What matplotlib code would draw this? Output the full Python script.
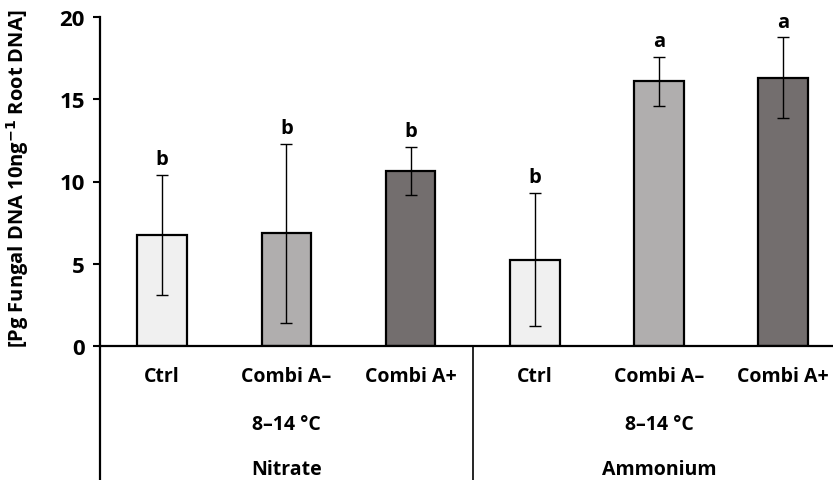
import numpy as np
import matplotlib
matplotlib.use("Agg")
import matplotlib.pyplot as plt

plt.rcParams['font.family'] = ['Open Sans', 'DejaVu Sans']
plt.rcParams['font.weight'] = 'bold'
plt.rcParams['mathtext.fontset'] = 'dejavusans'

# data
treatments = ["Ctrl", "Combi A\u2013", "Combi A+", "Ctrl", "Combi A\u2013", "Combi A+"]
means = [6.75, 6.85, 10.65, 5.25, 16.1, 16.3]
errors = [3.65, 5.45, 1.47, 4.05, 1.48, 2.46]
letters = ["b", "b", "b", "b", "a", "a"]
colors = ["#f0f0f0", "#b0aeae", "#736e6e"] * 2
temp_label = "8\u201314 \u00b0C"
nitrogen = ["Nitrate", "Ammonium"]

fig = plt.figure(figsize=(8.33, 4.81), dpi=100)
ax = fig.add_axes([100/833, (481-347)/481, 733/833, 329/481])

x = np.arange(len(means))
ax.bar(x, means, width=0.4, color=colors, edgecolor="black", linewidth=1.6, zorder=2)
ax.errorbar(x, means, yerr=errors, fmt="none", ecolor="black", elinewidth=1.0,
            capsize=4, capthick=1.0, zorder=3)

for xi, m, e, l in zip(x, means, errors, letters):
    ax.text(xi, m + e + 0.35, l, ha="center", va="bottom", fontsize=14.5, fontweight="bold")

ax.set_xlim(-0.5, 5.4)
ax.set_ylim(0, 20)
ax.set_yticks([0, 5, 10, 15, 20])
ax.tick_params(axis="y", labelsize=16, width=1.5, length=5, pad=6)
ax.set_xticks([])
for t in ax.get_yticklabels():
    t.set_fontweight("bold")

for s in ["top", "right"]:
    ax.spines[s].set_visible(False)
ax.spines["left"].set_linewidth(1.6)
ax.spines["bottom"].set_linewidth(1.6)

# extend left spine and add group separator below the axis
trans = ax.get_xaxis_transform()
ax.plot([-0.5, -0.5], [0, -0.42], transform=trans, color="black", lw=1.6, clip_on=False)
ax.plot([2.5, 2.5], [0, -0.42], transform=trans, color="black", lw=1.2, clip_on=False)

# category rows
fs = 14
for xi, name in zip(x, treatments):
    ax.text(xi, -0.091, name, transform=trans, ha="center", va="center", fontsize=fs, fontweight="bold")
for g, name in enumerate(nitrogen):
    ax.text(1 + 3*g, -0.237, temp_label, transform=trans, ha="center", va="center", fontsize=fs, fontweight="bold")
    ax.text(1 + 3*g, -0.374, name, transform=trans, ha="center", va="center", fontsize=fs, fontweight="bold")

ax.set_ylabel("[Pg Fungal DNA 10ng$^{\\mathbf{-1}}$ Root DNA]", fontsize=14.5, fontweight="bold")
ax.yaxis.set_label_coords(-0.094, 0.51)

fig.savefig("out.png", dpi=100)
